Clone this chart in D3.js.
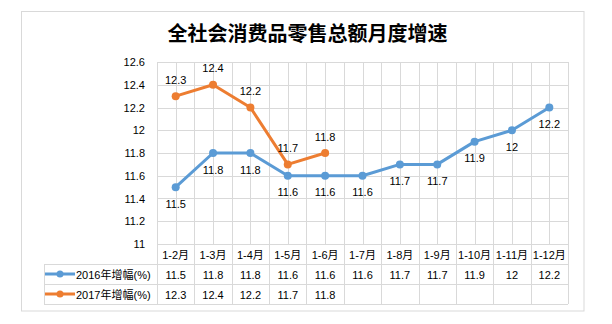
<!DOCTYPE html>
<html>
<head>
<meta charset="utf-8">
<script src="https://cdn.jsdelivr.net/npm/d3@7"></script>
<style>
  html, body { margin: 0; padding: 0; background: #fff; }
  svg { display: block; }
  text { font-family: "Liberation Sans", Arial, "Noto Sans CJK SC", sans-serif; fill: #000; }
  .cjk { font-family: "Liberation Sans", "Noto Sans CJK SC", sans-serif; }
</style>
</head>
<body>
<svg id="chart" width="612" height="324"></svg>
<script>
// Retail sales growth, cumulative by month
const categories = ["1-2月", "1-3月", "1-4月", "1-5月", "1-6月", "1-7月", "1-8月", "1-9月", "1-10月", "1-11月", "1-12月"];
const values2016 = [11.5, 11.8, 11.8, 11.6, 11.6, 11.6, 11.7, 11.7, 11.9, 12, 12.2];
const values2017 = [12.3, 12.4, 12.2, 11.7, 11.8];
const seriesNames = ["2016年增幅(%)", "2017年增幅(%)"];
const seriesColors = ["#5B9BD5", "#ED7D31"];
const yTicks = [11, 11.2, 11.4, 11.6, 11.8, 12, 12.2, 12.4, 12.6];
const title = "全社会消费品零售总额月度增速";

const svg = d3.select("#chart");
const gridColor = "#d9d9d9";

const plot = { left: 157, right: 568, top: 62, bottom: 244 };

const x = d3.scaleBand().domain(categories).range([plot.left, plot.right]).paddingInner(0).paddingOuter(0);
const y = d3.scaleLinear().domain([11, 12.6]).range([plot.bottom, plot.top]);
const cx = c => x(c) + x.bandwidth() / 2;

// outer frame
svg.append("rect")
  .attr("x", 21.5).attr("y", 11.5).attr("width", 562.5).attr("height", 299.5)
  .attr("fill", "#fff").attr("stroke", gridColor).attr("stroke-width", 1);

// title
svg.append("text")
  .attr("class", "cjk")
  .attr("x", 307.5).attr("y", 32)
  .attr("text-anchor", "middle").attr("dominant-baseline", "central")
  .style("font-family", "'Noto Sans CJK SC', sans-serif")
  .style("font-size", "20px").style("font-weight", "700")
  .text(title);

// horizontal gridlines
const gGrid = svg.append("g");
gGrid.selectAll("line.h").data(yTicks).join("line")
  .attr("x1", plot.left).attr("x2", plot.right)
  .attr("y1", d => Math.round(y(d)) + 0.5).attr("y2", d => Math.round(y(d)) + 0.5)
  .attr("stroke", gridColor);

// vertical gridlines at category edges and centres
const vLines = [];
categories.forEach(c => { vLines.push(x(c)); vLines.push(cx(c)); });
vLines.push(plot.right);
gGrid.selectAll("line.v").data(vLines).join("line")
  .attr("x1", d => Math.round(d) + 0.5).attr("x2", d => Math.round(d) + 0.5)
  .attr("y1", plot.top).attr("y2", plot.bottom)
  .attr("stroke", gridColor);

// y axis labels
const yAxis = d3.axisLeft(y).tickValues(yTicks).tickSize(0).tickPadding(12)
  .tickFormat(d => d3.format("~g")(d));
const gy = svg.append("g").attr("transform", `translate(${plot.left},0)`).call(yAxis);
gy.select(".domain").remove();
gy.selectAll("text").style("font-size", "11px").style("font-family", "'Liberation Sans', Arial, sans-serif").attr("fill", "#000");

// data table under the plot
const rowTop = [244, 264, 284, 304];
const gTable = svg.append("g");
const tableLeft = 44;
// horizontal rules
gTable.append("line").attr("x1", plot.left).attr("x2", plot.right)
  .attr("y1", rowTop[0] + 0.5).attr("y2", rowTop[0] + 0.5).attr("stroke", gridColor);
[rowTop[1], rowTop[2], rowTop[3]].forEach(yy => {
  gTable.append("line").attr("x1", tableLeft).attr("x2", plot.right)
    .attr("y1", yy + 0.5).attr("y2", yy + 0.5).attr("stroke", gridColor);
});
// vertical rules
const edges = categories.map(c => x(c)).concat([plot.right]);
gTable.selectAll("line.tv").data(edges).join("line")
  .attr("x1", d => Math.round(d) + 0.5).attr("x2", d => Math.round(d) + 0.5)
  .attr("y1", rowTop[0]).attr("y2", rowTop[3])
  .attr("stroke", gridColor);
gTable.append("line").attr("x1", tableLeft + 0.5).attr("x2", tableLeft + 0.5)
  .attr("y1", rowTop[1]).attr("y2", rowTop[3]).attr("stroke", gridColor);

// header row: category names
gTable.selectAll("text.cat").data(categories).join("text")
  .attr("class", "cjk")
  .attr("x", d => cx(d)).attr("y", (rowTop[0] + rowTop[1]) / 2 + 1)
  .attr("text-anchor", "middle").attr("dominant-baseline", "central")
  .style("font-size", "11px")
  .text(d => d);

// value rows
[values2016, values2017].forEach((vals, i) => {
  const yMid = (rowTop[i + 1] + rowTop[i + 2]) / 2 + 1;
  gTable.selectAll(`text.v${i}`).data(vals).join("text")
    .attr("x", (d, j) => cx(categories[j])).attr("y", yMid)
    .attr("text-anchor", "middle").attr("dominant-baseline", "central")
    .style("font-size", "11px")
    .text(d => d3.format("~g")(d));
  // legend key
  gTable.append("line").attr("x1", 45).attr("x2", 75).attr("y1", yMid - 1).attr("y2", yMid - 1)
    .attr("stroke", seriesColors[i]).attr("stroke-width", 3);
  gTable.append("circle").attr("cx", 60).attr("cy", yMid - 1).attr("r", 3.5).attr("fill", seriesColors[i]);
  gTable.append("text").attr("class", "cjk")
    .attr("x", 76).attr("y", yMid).attr("dominant-baseline", "central")
    .style("font-size", "11px")
    .text(seriesNames[i]);
});

// series lines, markers and value labels
const line = d3.line().x((d, j) => cx(categories[j])).y(d => y(d));
[values2016, values2017].forEach((vals, i) => {
  const g = svg.append("g");
  g.append("path").datum(vals).attr("d", line)
    .attr("fill", "none").attr("stroke", seriesColors[i]).attr("stroke-width", 3)
    .attr("stroke-linejoin", "round");
  g.selectAll("circle").data(vals).join("circle")
    .attr("cx", (d, j) => cx(categories[j])).attr("cy", d => y(d)).attr("r", 4)
    .attr("fill", seriesColors[i]);
  const dy = i === 0 ? 16.5 : -16.5;
  g.selectAll("text").data(vals).join("text")
    .attr("x", (d, j) => cx(categories[j])).attr("y", d => y(d) + dy)
    .attr("text-anchor", "middle").attr("dominant-baseline", "central")
    .style("font-size", "11px")
    .text(d => d3.format("~g")(d));
});
</script>
</body>
</html>
